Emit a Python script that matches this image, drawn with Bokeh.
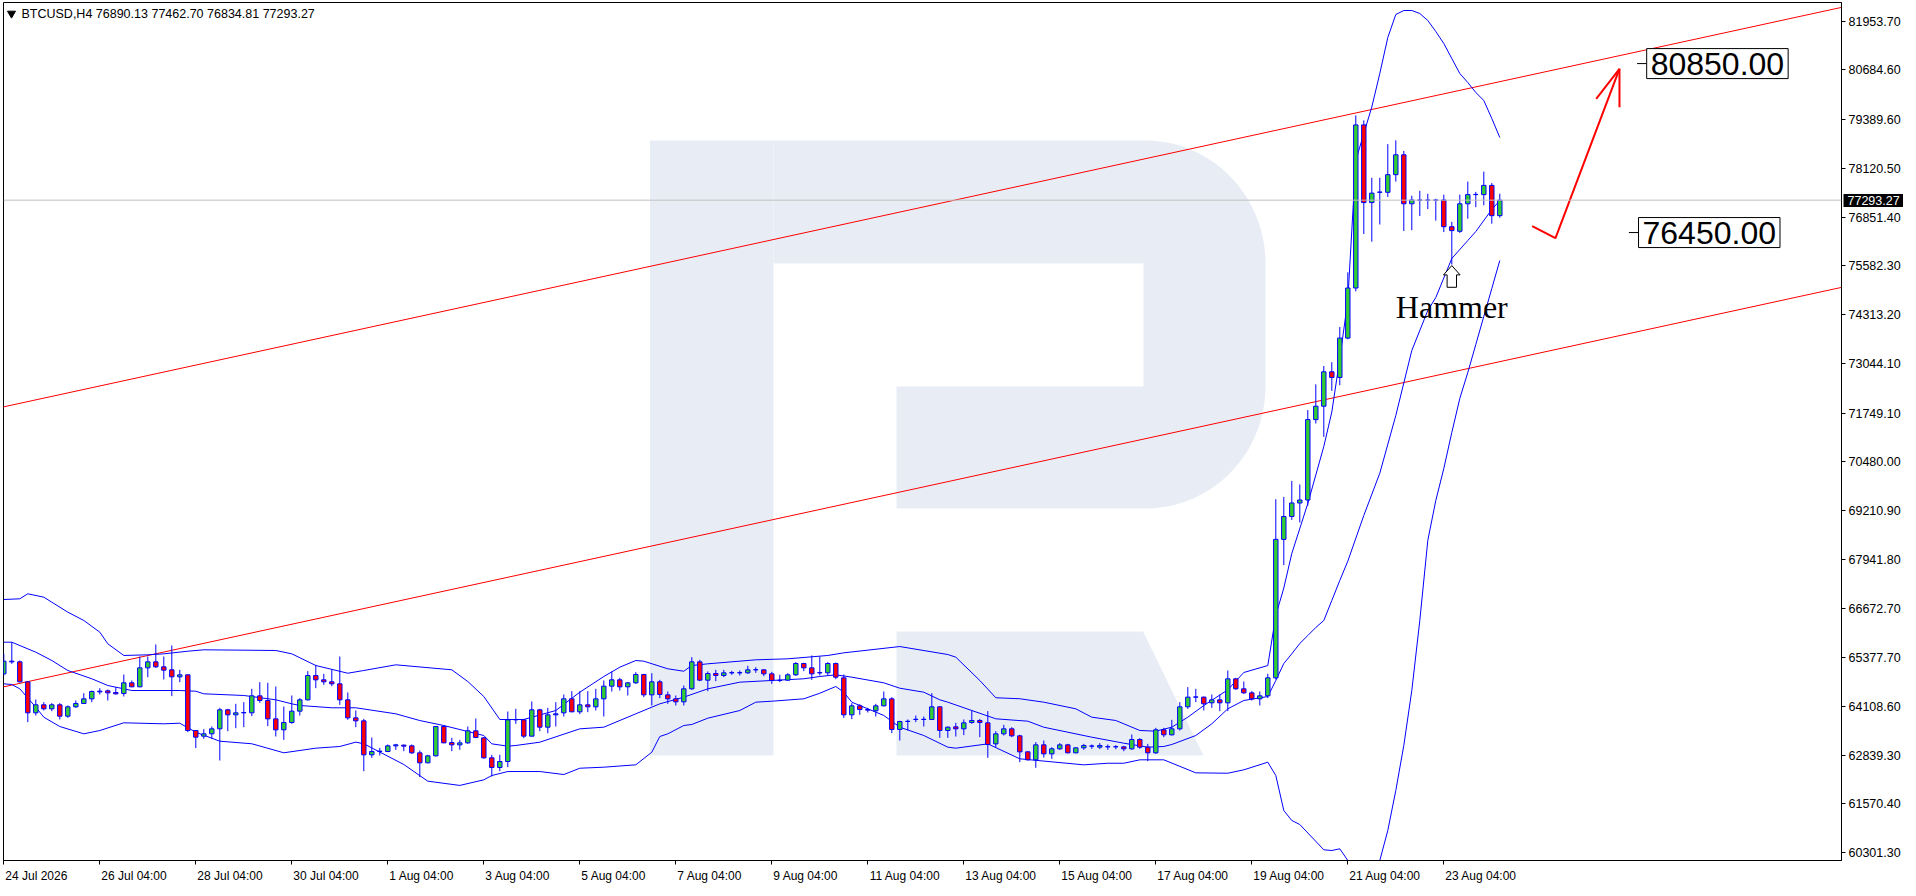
import numpy as np
from bokeh.plotting import figure
from bokeh.models import (Range1d, FixedTicker, NumeralTickFormatter, Span, Label, ColumnDataSource,
                          LinearAxis, CustomJSTickFormatter)
from bokeh.embed import file_html
from bokeh.resources import INLINE

# ---------------- data (BTCUSD, H4) ----------------
opens = [64959, 65289, 65271, 64751, 63944, 64152, 64048, 64152, 63857, 64100,
         64187, 64308, 64490, 64516, 64473, 64447, 64725, 64621, 65115, 65271,
         65141, 65063, 64881, 64933, 63484, 63336, 63397, 63527, 64022, 63892,
         63944, 63944, 64386, 64265, 63787, 63501, 63692, 63987, 64282, 64916,
         64803, 64751, 64699, 64282, 63813, 63735, 62850, 62937, 62937, 63084,
         63102, 63084, 62902, 62642, 62824, 63588, 63171, 63110, 63162, 63475,
         63292, 62772, 62520, 62676, 63761, 63761, 63336, 64022, 63570, 63892,
         63944, 64308, 63970, 64152, 64100, 64308, 64638, 64803, 64621, 64725,
         64942, 64412, 64751, 64412, 64308, 64230, 64569, 65271, 64794, 64968,
         64916, 64985, 64990, 64985, 65063, 65063, 64959, 64786, 64794, 64933,
         65228, 65115, 64985, 64985, 65228, 64855, 63892, 64126, 64030, 63996,
         64126, 64308, 63510, 63718, 63770, 63776, 63770, 64100, 63484, 63579,
         63527, 63692, 63744, 63683, 63136, 63397, 63527, 63345, 62928, 62720,
         63110, 62876, 63006, 63110, 62902, 63032, 63076, 63049, 63058, 63058,
         63058, 63006, 63249, 63049, 62902, 63501, 63371, 63527, 64100, 64352,
         64352, 64204, 64282, 64204, 64829, 64569, 64464, 64308, 64386, 64855,
         68460, 69056, 69408, 69486, 71579, 71928, 72824, 72676, 73702, 75006,
         79253, 77230, 77498, 77498, 77957, 78475, 77199, 77290, 77296, 77290,
         77298, 76602, 76483, 77199, 77438, 77438, 77678, 76890.13]
highs = [65480, 65784, 65306, 64759, 64291, 64221, 64195, 64195, 64135, 64265,
         64456, 64525, 64586, 64551, 64612, 64942, 64786, 65410, 65410, 65723,
         65410, 65697, 65063, 64942, 63484, 63518, 63588, 64074, 64048, 64178,
         64221, 64569, 64742, 64725, 64629, 64109, 64395, 64326, 65029, 65193,
         64959, 65063, 65410, 64473, 64004, 63787, 63301, 63032, 63119, 63136,
         63119, 63119, 62963, 62850, 63588, 63622, 63292, 63240, 63588, 63796,
         63310, 62850, 62850, 63978, 64048, 63787, 64239, 64048, 64074, 64221,
         64421, 64508, 64508, 64508, 64569, 64786, 65020, 64855, 64742, 65003,
         64959, 64976, 64803, 64499, 64395, 64655, 65393, 65324, 65020, 65063,
         65063, 65037, 65046, 65167, 65133, 65081, 65011, 64933, 64976, 65263,
         65246, 65437, 65410, 65263, 65254, 64942, 64195, 64169, 64074, 64178,
         64499, 64352, 63735, 63770, 63874, 63848, 64456, 64117, 63588, 63683,
         63770, 64004, 63787, 63987, 63466, 63631, 63570, 63371, 62945, 63180,
         63223, 63049, 63154, 63136, 63049, 63136, 63119, 63154, 63119, 63102,
         63084, 63379, 63284, 63136, 63553, 63553, 63761, 64221, 64612, 64569,
         64369, 64421, 64421, 65046, 64855, 64759, 64508, 64499, 64959, 69506,
         69566, 69983, 69889, 71827, 72496, 72975, 73074, 73991, 75415, 79501,
         79371, 77876, 77876, 78753, 78852, 78574, 77410, 77537, 77459, 77329,
         77438, 76730, 77438, 77777, 77509, 78037, 77738, 77462.70]
lows = [64916, 65220, 64733, 63701, 63874, 64004, 63987, 63770, 63813, 64074,
        64178, 64221, 64421, 64265, 64421, 64369, 64612, 64612, 64872, 65115,
        64812, 64378, 64742, 63440, 63024, 63267, 63267, 62702, 63466, 63544,
        63570, 63857, 64204, 63596, 63327, 63240, 63657, 63874, 64265, 64586,
        64673, 64638, 64152, 63761, 63570, 62424, 62772, 62833, 62919, 62980,
        62945, 62876, 62268, 62633, 62807, 63154, 62945, 62980, 63136, 63284,
        62746, 62286, 62424, 62529, 63657, 63284, 63327, 63466, 63414, 63588,
        63848, 63961, 63909, 63961, 64004, 63848, 64499, 64525, 64395, 64699,
        64352, 64135, 64326, 64178, 64135, 64135, 64543, 64768, 64508, 64768,
        64872, 64933, 64916, 64959, 64985, 64898, 64699, 64742, 64777, 64907,
        65029, 64803, 64916, 64916, 64820, 63813, 63779, 63892, 63952, 63848,
        64109, 63414, 63223, 63484, 63701, 63588, 63761, 63292, 63292, 63327,
        63362, 63657, 63310, 62772, 63049, 63353, 63310, 62659, 62702, 62511,
        62780, 62746, 62980, 62893, 62893, 62980, 63006, 62997, 62980, 62997,
        62945, 62980, 63006, 62685, 62876, 63310, 63353, 63484, 64048, 64221,
        64004, 64074, 63987, 63987, 64543, 64438, 64265, 64135, 64326, 64812,
        67791, 68968, 68900, 69337, 71478, 71129, 72327, 72475, 73670, 74918,
        76412, 76212, 76660, 77378, 77777, 76490, 76511, 76881, 77061, 76761,
        76462, 75616, 76441, 76811, 77110, 77160, 76681, 76834.81]
closes = [65289, 65271, 64751, 63944, 64152, 64048, 64152, 63857, 64100, 64187,
          64308, 64499, 64508, 64464, 64438, 64725, 64621, 65115, 65271, 65141,
          65055, 64881, 64933, 63484, 63310, 63397, 63527, 64022, 63892, 63944,
          63950, 64386, 64265, 63787, 63501, 63692, 63987, 64282, 64916, 64803,
          64751, 64699, 64282, 63813, 63735, 62850, 62937, 62945, 63084, 63110,
          63076, 62902, 62642, 62824, 63588, 63162, 63110, 63162, 63475, 63301,
          62772, 62520, 62676, 63761, 63770, 63336, 64022, 63570, 63892, 63918,
          64308, 63970, 64152, 64100, 64308, 64638, 64803, 64621, 64725, 64942,
          64412, 64751, 64421, 64308, 64230, 64569, 65271, 64794, 64968, 64916,
          64985, 64990, 64985, 65063, 65068, 64959, 64786, 64792, 64933, 65228,
          65115, 64959, 64990, 65228, 64872, 63892, 64126, 64030, 64013, 64126,
          64308, 63510, 63718, 63724, 63776, 63770, 64100, 63484, 63570, 63527,
          63683, 63744, 63692, 63119, 63397, 63527, 63345, 62928, 62720, 63110,
          62876, 63006, 63110, 62902, 63032, 63093, 63080, 63093, 63062, 63062,
          63006, 63249, 63049, 62902, 63501, 63371, 63527, 64100, 64352, 64358,
          64178, 64282, 64204, 64829, 64569, 64464, 64308, 64386, 64855, 68460,
          69056, 69408, 69486, 71579, 71928, 72824, 72676, 73702, 75006, 79253,
          77230, 77477, 77505, 77957, 78475, 77199, 77298, 77296, 77290, 77296,
          76602, 76501, 77199, 77438, 77444, 77678, 76890.13, 77293.27]

# Bollinger bands (candle index, price)
bb_upper_idx = [0, 2, 3, 5, 6, 8, 10, 12, 13, 15, 18, 20, 23, 25, 34, 36, 39, 43, 45, 49,
                56, 58, 60, 62, 65, 69, 72, 75, 77, 79, 80, 83, 85, 86, 88, 94, 98, 103, 105,
                112, 118, 119, 122, 124, 127, 130, 134, 136, 139, 142, 144, 146, 148, 150,
                153, 155, 158, 159, 160, 161, 163, 165, 166, 167, 168, 169, 170, 171, 172,
                173, 174, 175, 176, 177, 178, 179, 180, 181, 182, 183, 184, 185, 186, 187]
bb_upper = [66895, 66913, 67043, 66955, 66825, 66565, 66348, 66044, 65741, 65437, 65454,
            65480, 65548, 65585, 65567, 65480, 65176, 64975, 65046, 65194, 65064, 64759,
            64369, 63770, 63770, 64004, 64481, 64889, 65132, 65306, 65288, 65090, 65027,
            65176, 65220, 65324, 65350, 65437, 65506, 65670, 65462, 65393, 64786, 64336,
            64310, 64221, 64048, 63830, 63744, 63484, 63466, 63570, 63830, 64134, 64543,
            64994, 65175, 66478, 67194, 68093, 69394, 70879, 71777, 73170, 74681, 78326,
            79029, 79719, 80592, 81529, 82128, 82232, 82232, 82154, 81972, 81685, 81373,
            80982, 80592, 80357, 80097, 79889, 79420, 78925]
bb_mid_idx = [0, 1, 4, 6, 8, 11, 13, 16, 22, 24, 25, 30, 34, 36, 37, 41, 44, 49, 52, 55,
              60, 61, 63, 64, 67, 72, 75, 79, 82, 85, 88, 92, 96, 100, 102, 104, 106, 110,
              112, 115, 117, 118, 121, 124, 128, 130, 136, 140, 143, 145, 146, 149, 151,
              153, 155, 158, 159, 160, 161, 162, 163, 164, 165, 166, 167, 168, 170, 172,
              174, 176, 178, 179, 181, 183, 184, 186, 187]
bb_mid = [65783, 65783, 65523, 65306, 65046, 64830, 64655, 64525, 64525, 64506, 64439,
          64395, 64283, 64178, 64135, 64075, 64075, 63918, 63743, 63613, 63353, 63136,
          63075, 63093, 63179, 63527, 63570, 63918, 64178, 64351, 64569, 64742, 64786,
          64830, 64890, 64934, 64872, 64725, 64585, 64481, 64283, 64221, 64004, 63788,
          63726, 63569, 63309, 63153, 63049, 63067, 63119, 63353, 63657, 64048, 64265,
          64368, 64785, 65228, 65481, 65749, 65957, 66166, 66348, 66869, 67390, 67893,
          69082, 70184, 71686, 73379, 74420, 74759, 75774, 76243, 76477, 77050, 77285]
bb_lower_idx = [0, 1, 2, 4, 5, 7, 10, 12, 15, 20, 22, 24, 27, 31, 35, 39, 42, 44, 45, 50,
                53, 57, 60, 61, 63, 67, 70, 72, 75, 79, 81, 82, 83, 85, 86, 88, 92, 94, 96,
                100, 102, 104, 105, 106, 110, 112, 115, 118, 119, 123, 127, 135, 138, 140,
                142, 145, 149, 153, 155, 158, 159, 160, 161, 162, 165, 166, 167, 168, 169,
                170, 171, 172, 173, 174, 175, 176, 177, 178, 179, 180, 181, 182, 183, 184,
                185, 186, 187]
bb_lower = [64699, 64681, 64569, 64090, 63830, 63587, 63397, 63483, 63684, 63658, 63673,
            63439, 63205, 63138, 62903, 63023, 63067, 63180, 63138, 62598, 62164, 62053,
            62199, 62311, 62415, 62415, 62337, 62501, 62528, 62590, 62918, 63327, 63397,
            63614, 63640, 63804, 64004, 64221, 64246, 64309, 64454, 64629, 64480, 64221,
            63875, 63570, 63353, 63049, 63023, 63136, 62746, 62589, 62631, 62631, 62720,
            62720, 62381, 62371, 62459, 62658, 62312, 61400, 61140, 61036, 60377, 60359,
            60403, 60099, 59447, 59317, 59578, 60099, 60880, 61922, 63094, 64525, 66348,
            68432, 69473, 70306, 71243, 72129, 72806, 73535, 74264, 74993, 75722]

# red price channel (anchor candle index -> price)
channel_idx = [0, 230]
channel_upper = [71912, 82326]
channel_lower = [64621, 75035]

# forecast path and its arrow head
forecast_idx = [191.05, 193.96, 201.96]
forecast_price = [76615, 76303, 80714]
arrowhead_idx = [199.05, 201.96, 201.96]
arrowhead_price = [79933, 80714, 79714]

# target price labels
target_prices = [80850.00, 76450.00]
target_label_idx = [205.36, 204.34]

hammer_idx = 181
hammer_text = "Hammer"

price_ticks = [81953.70, 80684.60, 79389.60, 78120.50, 76851.40, 75582.30, 74313.20,
               73044.10, 71749.10, 70480.00, 69210.90, 67941.80, 66672.70, 65377.70,
               64108.60, 62839.30, 61570.40, 60301.30]
date_tick_idx = [0, 12, 24, 36, 48, 60, 72, 84, 96, 108, 120, 132, 144, 156, 168, 180]
date_labels = ["24 Jul 2026", "26 Jul 04:00", "28 Jul 04:00", "30 Jul 04:00", "1 Aug 04:00",
               "3 Aug 04:00", "5 Aug 04:00", "7 Aug 04:00", "9 Aug 04:00", "11 Aug 04:00",
               "13 Aug 04:00", "15 Aug 04:00", "17 Aug 04:00", "19 Aug 04:00",
               "21 Aug 04:00", "23 Aug 04:00"]
title_text = "BTCUSD,H4  76890.13 77462.70 76834.81 77293.27"

# ---------------- layout helpers (reference-screen geometry) ----------------
PX_PER_BAR = 8.0
BAR0_PX = 3.3
PRICE_AT_PX0 = 82492.7
PRICE_PER_PX = 26.04
FRAME_L, FRAME_R, FRAME_T, FRAME_B = 3, 1841, 2, 860
FONT = "Liberation Sans"
AXIS_FONT_PX = 12.5
DATE_FONT_PX = 12


def px_to_idx(x):
    return (x - BAR0_PX) / PX_PER_BAR


def px_to_price(y):
    return PRICE_AT_PX0 - PRICE_PER_PX * y


# approximate advance widths (em) of Liberation Sans, used to left-align date labels at their ticks
_EM = {" ": 0.278, ":": 0.278, "J": 0.5, "u": 0.556, "l": 0.222, "A": 0.667, "g": 0.556}


def text_px(s, size):
    return sum(_EM.get(ch, 0.556) for ch in s) * size


def _arc(cx, cy, rx, ry, a0, a1, n=24):
    t = np.radians(np.linspace(a0, a1, n))
    return list(zip(cx + rx * np.cos(t), cy - ry * np.sin(t)))

# watermark "R" (reference pixel geometry)
logo_stem = [(649.5, 140), (773, 140), (773, 755), (649.5, 755)]
logo_bowl = ([(773, 140), (1145, 140)] + _arc(1145, 263, 120, 123, 90, 0)
             + _arc(1145, 386, 120, 122, 0, -90)
             + [(896, 508), (896, 386), (1143, 386), (1143, 263), (773, 263)])
logo_leg = [(896, 631), (1142.6, 631), (1203, 755), (896, 755)]

# ---------------- figure ----------------
p = figure(frame_width=FRAME_R - FRAME_L, frame_height=FRAME_B - FRAME_T,
           x_range=Range1d(px_to_idx(FRAME_L), px_to_idx(FRAME_R)),
           y_range=Range1d(px_to_price(FRAME_B), px_to_price(FRAME_T)),
           output_backend="svg", toolbar_location=None, y_axis_location="right",
           min_border_left=FRAME_L, min_border_top=FRAME_T, min_border_right=0, min_border_bottom=0)
p.grid.visible = False
p.outline_line_color = "black"
p.outline_line_width = 1
p.background_fill_color = "white"
p.border_fill_color = "white"

# price scale
ya = p.yaxis[0]
ya.ticker = FixedTicker(ticks=price_ticks)
ya.formatter = NumeralTickFormatter(format="0.00")
ya.major_tick_out = 4
ya.major_tick_in = 0
ya.minor_tick_out = 0
ya.minor_tick_in = 0
ya.major_label_standoff = 3
ya.axis_line_color = "black"
ya.major_tick_line_color = "black"
ya.major_label_text_font = FONT
ya.major_label_text_font_size = f"{AXIS_FONT_PX}px"
ya.major_label_text_color = "black"

# current price badge: a second scale whose single thick inward tick forms the black box
badge_w = text_px("00000.00", AXIS_FONT_PX)
badge = LinearAxis(ticker=FixedTicker(ticks=[closes[-1]]),
                   formatter=NumeralTickFormatter(format="0.00"),
                   axis_line_color=None, major_tick_out=0, major_tick_in=int(badge_w + 5),
                   minor_tick_out=0, minor_tick_in=0,
                   major_tick_line_color="black", major_tick_line_width=13,
                   major_label_standoff=-int(badge_w + 1),
                   major_label_text_font=FONT, major_label_text_font_size=f"{AXIS_FONT_PX}px",
                   major_label_text_color="white")
p.add_layout(badge, "right")

# time scale: tick marks at the bars (minor ticks), labels start just right of each tick
label_pos = [t + (text_px(s, DATE_FONT_PX) / 2 + 1.5) / PX_PER_BAR
             for t, s in zip(date_tick_idx, date_labels)]
xa = p.xaxis[0]
xa.ticker = FixedTicker(ticks=label_pos, minor_ticks=date_tick_idx)
xa.formatter = CustomJSTickFormatter(args=dict(pos=label_pos, labels=date_labels), code="""
    let best = 0, bd = 1e12;
    for (let i = 0; i < pos.length; i++) {
        const d = Math.abs(pos[i] - tick);
        if (d < bd) { bd = d; best = i; }
    }
    return labels[best];
""")
xa.major_tick_out = 0
xa.major_tick_in = 0
xa.minor_tick_out = 4
xa.minor_tick_in = 0
xa.minor_tick_line_color = "black"
xa.major_label_standoff = 4
xa.axis_line_color = "black"
xa.major_label_text_font = FONT
xa.major_label_text_font_size = f"{DATE_FONT_PX}px"
xa.major_label_text_color = "black"

# watermark
wm_xs, wm_ys = [], []
for poly in (logo_stem, logo_bowl, logo_leg):
    wm_xs.append([px_to_idx(x) for x, _ in poly])
    wm_ys.append([px_to_price(y) for _, y in poly])
p.patches(wm_xs, wm_ys, fill_color="#E8EDF5", line_color=None)

# price channel (rays across the chart)
slope_u = (channel_upper[1] - channel_upper[0]) / (channel_idx[1] - channel_idx[0])
ext = [-5, 240]
p.line(ext, [channel_upper[0] + slope_u * (e - channel_idx[0]) for e in ext],
       line_color="#FF0000", line_width=1)
p.line(ext, [channel_lower[0] + slope_u * (e - channel_idx[0]) for e in ext],
       line_color="#FF0000", line_width=1)

# current price line
p.add_layout(Span(location=closes[-1], dimension="width", line_color="#C0C0C0", line_width=1))

# Bollinger bands
p.line(bb_upper_idx, bb_upper, line_color="#0000FF", line_width=1)
p.line(bb_mid_idx, bb_mid, line_color="#0000FF", line_width=1)
p.line(bb_lower_idx, bb_lower, line_color="#0000FF", line_width=1)

# candles
n = len(opens)
idx = list(range(n))
body_top = [max(o, c) for o, c in zip(opens, closes)]
body_bot = [min(o, c) for o, c in zip(opens, closes)]
fill = ["#32CD32" if c > o else ("#FF0000" if c < o else "#0000FF") for o, c in zip(opens, closes)]
src = ColumnDataSource(dict(x=idx, high=highs, low=lows, top=body_top, bottom=body_bot, fill=fill))
p.segment(x0="x", y0="low", x1="x", y1="high", source=src, line_color="#0000FF", line_width=1)
p.vbar(x="x", width=0.55, top="top", bottom="bottom", source=src, fill_color="fill",
       line_color="#0000FF", line_width=1)

# forecast arrow
p.line(forecast_idx, forecast_price, line_color="#FF0000", line_width=2)
p.line(arrowhead_idx, arrowhead_price, line_color="#FF0000", line_width=2)

# target price labels with leader dash
for tp, ti in zip(target_prices, target_label_idx):
    p.segment(x0=[ti - 1.2], y0=[tp], x1=[ti], y1=[tp], line_color="black", line_width=1)
    p.add_layout(Label(x=ti, y=tp, text=f"{tp:.2f}", text_align="left", text_baseline="middle",
                       text_font=FONT, text_font_size="32px", text_color="black",
                       background_fill_color="white", border_line_color="black",
                       border_line_width=1, padding=4))

# hammer marker: outlined up arrow below the candle's low, and caption
tip_price = lows[hammer_idx] - 1 * PRICE_PER_PX
arrow_px = [(0, 0), (8.3, 9.3), (4.7, 9.3), (4.7, 21.7), (-4.7, 21.7), (-4.7, 9.3), (-8.3, 9.3)]
p.patch([hammer_idx + dx / PX_PER_BAR for dx, _ in arrow_px],
        [tip_price - dy * PRICE_PER_PX for _, dy in arrow_px],
        fill_color="white", line_color="black", line_width=1)
p.add_layout(Label(x=hammer_idx, y=tip_price - 41.5 * PRICE_PER_PX, text=hammer_text,
                   text_align="center", text_baseline="alphabetic",
                   text_font="Liberation Serif", text_font_size="32px", text_color="black"))

# top-left symbol caption
p.scatter([px_to_idx(11)], [px_to_price(13)], marker="inverted_triangle", size=8,
          fill_color="black", line_color="black")
p.add_layout(Label(x=px_to_idx(21), y=px_to_price(13.5), text=title_text, text_align="left",
                   text_baseline="middle", text_font=FONT, text_font_size="12.5px",
                   text_color="black"))

open("out.html", "w").write(file_html(p, INLINE))
